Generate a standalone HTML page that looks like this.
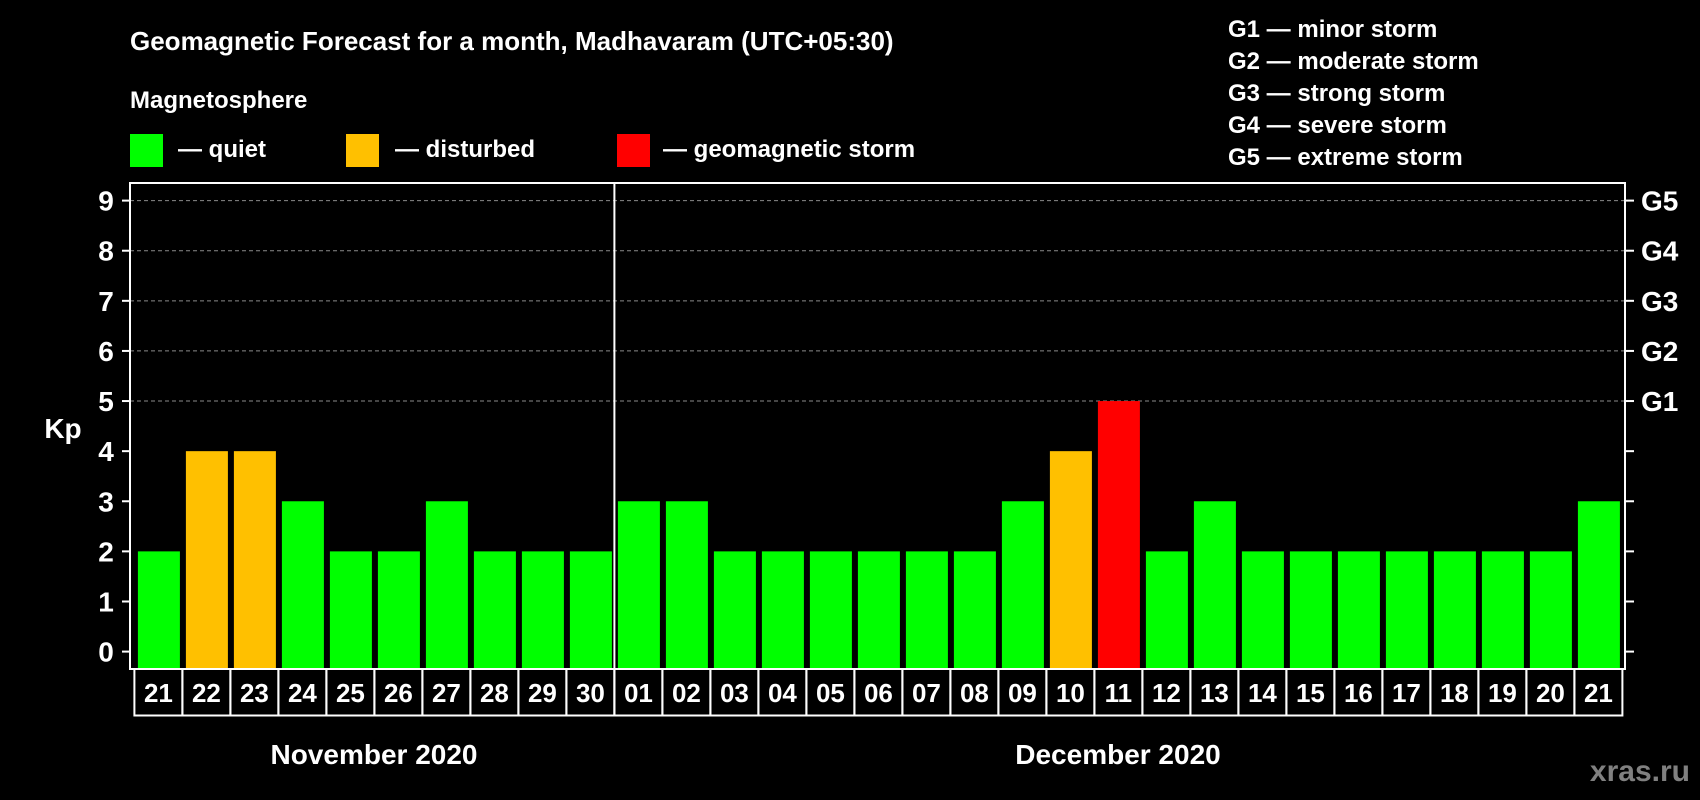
<!DOCTYPE html>
<html><head><meta charset="utf-8"><style>
html,body{margin:0;padding:0;background:#000;}
svg{display:block;font-family:"Liberation Sans",Arial,sans-serif;font-weight:bold;}
</style></head><body>
<svg id="chart" width="1700" height="800" viewBox="0 0 1700 800" xmlns="http://www.w3.org/2000/svg">
<rect width="1700" height="800" fill="#000"/>
<text x="130" y="50" fill="#fff" font-size="26">Geomagnetic Forecast for a month, Madhavaram (UTC+05:30)</text>
<text x="130" y="108" fill="#fff" font-size="24">Magnetosphere</text>
<rect x="130" y="134" width="33" height="33" fill="#00ff00"/>
<text x="178" y="157" fill="#fff" font-size="24">— quiet</text>
<rect x="346" y="134" width="33" height="33" fill="#ffc000"/>
<text x="395" y="157" fill="#fff" font-size="24">— disturbed</text>
<rect x="617" y="134" width="33" height="33" fill="#ff0000"/>
<text x="663" y="157" fill="#fff" font-size="24">— geomagnetic storm</text>
<g fill="#fff" font-size="24">
<text x="1228" y="37">G1 — minor storm</text>
<text x="1228" y="69">G2 — moderate storm</text>
<text x="1228" y="101">G3 — strong storm</text>
<text x="1228" y="133">G4 — severe storm</text>
<text x="1228" y="165">G5 — extreme storm</text>
</g>
<text x="63" y="438" fill="#fff" font-size="28" text-anchor="middle">Kp</text>
<g id="grid"></g>
<g id="bars"></g>
<g id="axes"></g>
<text x="374" y="764" fill="#fff" font-size="28" text-anchor="middle">November 2020</text>
<text x="1118" y="764" fill="#fff" font-size="28" text-anchor="middle">December 2020</text>
<text x="1690" y="781" fill="#808080" font-size="30" text-anchor="end">xras.ru</text>
</svg>
<script>
const days = ["21","22","23","24","25","26","27","28","29","30","01","02","03","04","05","06","07","08","09","10","11","12","13","14","15","16","17","18","19","20","21"];
const kpValues = [2,4,4,3,2,2,3,2,2,2,3,3,2,2,2,2,2,2,3,4,5,2,3,2,2,2,2,2,2,2,3];
const yTicks = [0,1,2,3,4,5,6,7,8,9];
const gLabels = ["G1","G2","G3","G4","G5"];
const gLevels = [5,6,7,8,9];

const NS = "http://www.w3.org/2000/svg";
const plotL = 130, plotR = 1625, plotT = 183, plotB = 669;
const cellX0 = 134.4, cellW = 48;
const y0 = 651.6, yUnit = (651.6 - 200.6) / 9;
function yScale(v){ return y0 - v * yUnit; }
function xScale(i){ return cellX0 + i * cellW; }
function mk(tag, attrs, parent){
  const e = document.createElementNS(NS, tag);
  for (const k in attrs) e.setAttribute(k, attrs[k]);
  parent.appendChild(e);
  return e;
}
const grid = document.getElementById("grid");
const bars = document.getElementById("bars");
const axes = document.getElementById("axes");

yTicks.forEach(v => {
  const y = yScale(v);
  if (v >= 5) {
    const gl = mk("line", {x1: plotL, x2: plotR, y1: y, y2: y, stroke: "#8a8a8a", "stroke-width": 1, "stroke-dasharray": "4,3"}, grid);
    
    
  }
  const t1 = mk("line", {x1: 122, x2: plotL, y1: y, y2: y, stroke: "#fff", "stroke-width": 2}, axes);
  
  
  const t2 = mk("line", {x1: plotR, x2: 1634, y1: y, y2: y, stroke: "#fff", "stroke-width": 2}, axes);
  
  
  const lb = mk("text", {x: 106, y: y + 10, fill: "#fff", "font-size": 28, "text-anchor": "middle"}, axes);
  lb.textContent = v;
  
  
});
gLabels.forEach((g, i) => {
  const t = mk("text", {x: 1641, y: yScale(gLevels[i]) + 10, fill: "#fff", "font-size": 28}, axes);
  t.textContent = g;
  
  
});
kpValues.forEach((v, i) => {
  const color = v >= 5 ? "#ff0000" : (v >= 4 ? "#ffc000" : "#00ff00");
  const top = yScale(v);
  const b = mk("rect", {x: xScale(i) + 3.5, y: top, width: 42, height: plotB - top, fill: color}, bars);
  
  
  const c = mk("rect", {x: xScale(i), y: plotB, width: cellW, height: 46.5, fill: "none", stroke: "#fff", "stroke-width": 2}, axes);
  
  
  const t = mk("text", {x: xScale(i) + cellW / 2, y: plotB + 33, fill: "#fff", "font-size": 26, "text-anchor": "middle"}, axes);
  t.textContent = days[i];
  
  
});
const box = mk("rect", {x: plotL, y: plotT, width: plotR - plotL, height: plotB - plotT, fill: "none", stroke: "#fff", "stroke-width": 2}, axes);


const divIdx = days.indexOf("01");
const dv = mk("line", {x1: xScale(divIdx), x2: xScale(divIdx), y1: plotT, y2: plotB + 46.5, stroke: "#fff", "stroke-width": 2}, axes);


</script>
</body></html>
